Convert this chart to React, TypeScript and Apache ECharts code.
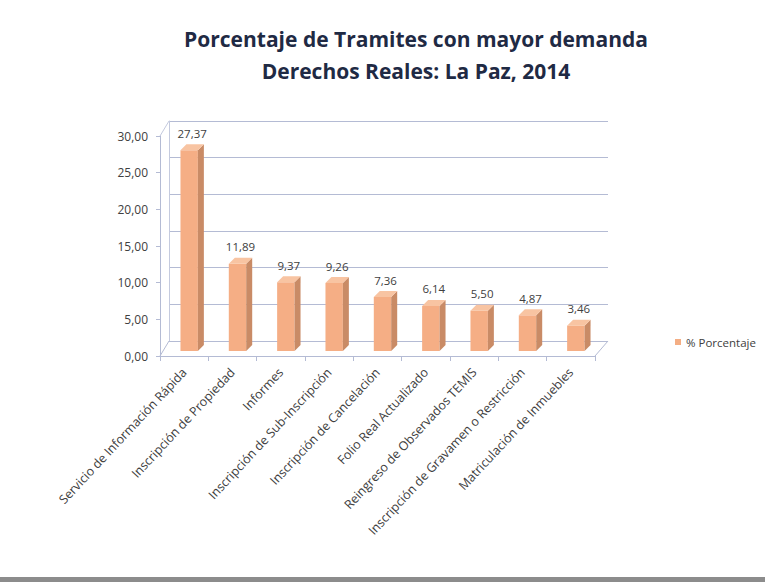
import React, { useEffect, useRef } from "react";
import * as echarts from "echarts";

const categories = [
  "Servicio de Información Rápida",
  "Inscripción de Propiedad",
  "Informes",
  "Inscripción de Sub-Inscripción",
  "Inscripción de Cancelación",
  "Folio Real Actualizado",
  "Reingreso de Observados TEMIS",
  "Inscripción de Gravamen o Restricción",
  "Matriculación de Inmuebles",
];
const porcentaje = [27.37, 11.89, 9.37, 9.26, 7.36, 6.14, 5.5, 4.87, 3.46];
const seriesName = "% Porcentaje";
const yMin = 0;
const yMax = 30;
const yStep = 5;

const fmt = (v: number) => v.toFixed(2).replace(".", ",");

export default function App() {
  const ref = useRef<HTMLDivElement>(null);
  useEffect(() => {
    if (!ref.current) return;
    const chart = echarts.init(ref.current, undefined, { renderer: "svg" });
    const DX = 9;
    const DY = -15;
    const textColor = "#404040";
    const font = "'Open Sans', 'Noto Sans', sans-serif";
    chart.setOption({
      animation: false,
      backgroundColor: "#ffffff",
      title: {
        text: "Porcentaje de Tramites con mayor demanda\nDerechos Reales: La Paz, 2014",
        left: 411,
        top: 18,
        textAlign: "center",
        textStyle: {
          fontFamily: font,
          fontWeight: "bold",
          fontSize: 21,
          lineHeight: 32,
          color: "#1f2a44",
        },
      },
      legend: {
        data: [{ name: seriesName, icon: "rect" }],
        left: 670,
        top: 331,
        itemWidth: 6,
        itemHeight: 6,
        itemGap: 4,
        textStyle: { fontFamily: font, fontSize: 11.5, color: textColor },
      },
      graphic: [
        {
          type: "rect",
          shape: { x: 0, y: 577, width: 765, height: 5 },
          style: { fill: "#8c8c8c" },
          silent: true,
        },
      ],
      grid: [
        { left: 160, right: 170, top: 136, bottom: 226 },
        { left: 160 + DX, right: 170 - DX - 4, top: 136 + DY, bottom: 226 - DY },
      ],
      xAxis: [
        {
          type: "category",
          gridIndex: 0,
          data: categories,
          axisLine: { show: true, lineStyle: { color: "#b4bbd4" } },
          axisTick: { show: true, length: 5, lineStyle: { color: "#b4bbd4" } },
          axisLabel: {
            rotate: 47,
            interval: 0,
            fontFamily: font,
            fontSize: 12.5,
            color: textColor,
            margin: 14,
          },
        },
        {
          type: "category",
          gridIndex: 1,
          data: categories,
          show: false,
        },
      ],
      yAxis: [
        {
          type: "value",
          gridIndex: 0,
          min: yMin,
          max: yMax,
          interval: yStep,
          axisLine: { show: true, lineStyle: { color: "#b4bbd4" } },
          axisTick: { show: true, length: 4, lineStyle: { color: "#b4bbd4" } },
          splitLine: { show: false },
          axisLabel: {
            formatter: (v: number) => fmt(v),
            fontFamily: font,
            fontSize: 12,
            color: textColor,
            margin: 12,
          },
        },
        {
          type: "value",
          gridIndex: 1,
          min: yMin,
          max: yMax,
          interval: yStep,
          axisLine: { show: true, lineStyle: { color: "#c4cade" } },
          axisTick: { show: false },
          axisLabel: { show: false },
          splitLine: { show: true, lineStyle: { color: "#b4bbd4", width: 1 } },
        },
      ],
      series: [
        {
          name: "floor",
          type: "custom",
          xAxisIndex: 0,
          yAxisIndex: 0,
          silent: true,
          data: [[0, 0]],
          renderItem: (params: any, api: any) => {
            const half = api.size([1, 0])[0] / 2;
            const l = api.coord([0, 0]);
            const r = api.coord([categories.length - 1, 0]);
            const x0 = l[0] - half;
            const x1 = r[0] + half;
            const y0 = l[1];
            const t = api.coord([0, yMax]);
            return {
              type: "group",
              children: [
                {
                  type: "line",
                  shape: { x1: x0, y1: y0, x2: x0 + DX, y2: y0 + DY },
                  style: { stroke: "#b4bbd4", lineWidth: 1 },
                },
                {
                  type: "line",
                  shape: { x1: x1, y1: y0, x2: x1 + DX + 4, y2: y0 + DY },
                  style: { stroke: "#b4bbd4", lineWidth: 1 },
                },
                {
                  type: "line",
                  shape: { x1: x0, y1: t[1], x2: x0 + DX, y2: t[1] + DY },
                  style: { stroke: "#c4cade", lineWidth: 1 },
                },
              ],
            };
          },
        },
        {
          name: seriesName,
          type: "custom",
          xAxisIndex: 0,
          yAxisIndex: 0,
          itemStyle: { color: "#f4ae84" },
          data: porcentaje.map((v, i) => [i, v]),
          encode: { x: 0, y: 1 },
          renderItem: (params: any, api: any) => {
            const idx = api.value(0);
            const val = api.value(1);
            const top = api.coord([idx, val]);
            const base = api.coord([idx, 0]);
            const w = api.size([1, 0])[0] * 0.36;
            const ox = 5;
            const oy = -5;
            const d = 6;
            const dy = -6;
            const xl = top[0] - w / 2 + ox;
            const xr = xl + w;
            const yt = top[1] + oy;
            const yb = base[1] + oy;
            return {
              type: "group",
              children: [
                {
                  type: "rect",
                  shape: { x: xl, y: yt, width: w, height: yb - yt },
                  style: { fill: "#f5ae85" },
                },
                {
                  type: "polygon",
                  shape: {
                    points: [
                      [xr, yt],
                      [xr + d, yt + dy],
                      [xr + d, yb + dy],
                      [xr, yb],
                    ],
                  },
                  style: { fill: "#c98b66" },
                },
                {
                  type: "polygon",
                  shape: {
                    points: [
                      [xl, yt],
                      [xl + d, yt + dy],
                      [xr + d, yt + dy],
                      [xr, yt],
                    ],
                  },
                  style: { fill: "#f8c4a2" },
                },
                {
                  type: "text",
                  style: {
                    text: fmt(val),
                    x: xl + w / 2 + 3,
                    y: yt + dy - 5,
                    textAlign: "center",
                    textVerticalAlign: "bottom",
                    fontFamily: font,
                    fontSize: 11.5,
                    fill: textColor,
                  },
                },
              ],
            };
          },
        },
      ],
    });
    return () => chart.dispose();
  }, []);
  return <div ref={ref} style={{ width: 765, height: 582, position: "absolute", left: 0, top: 0 }} />;
}
